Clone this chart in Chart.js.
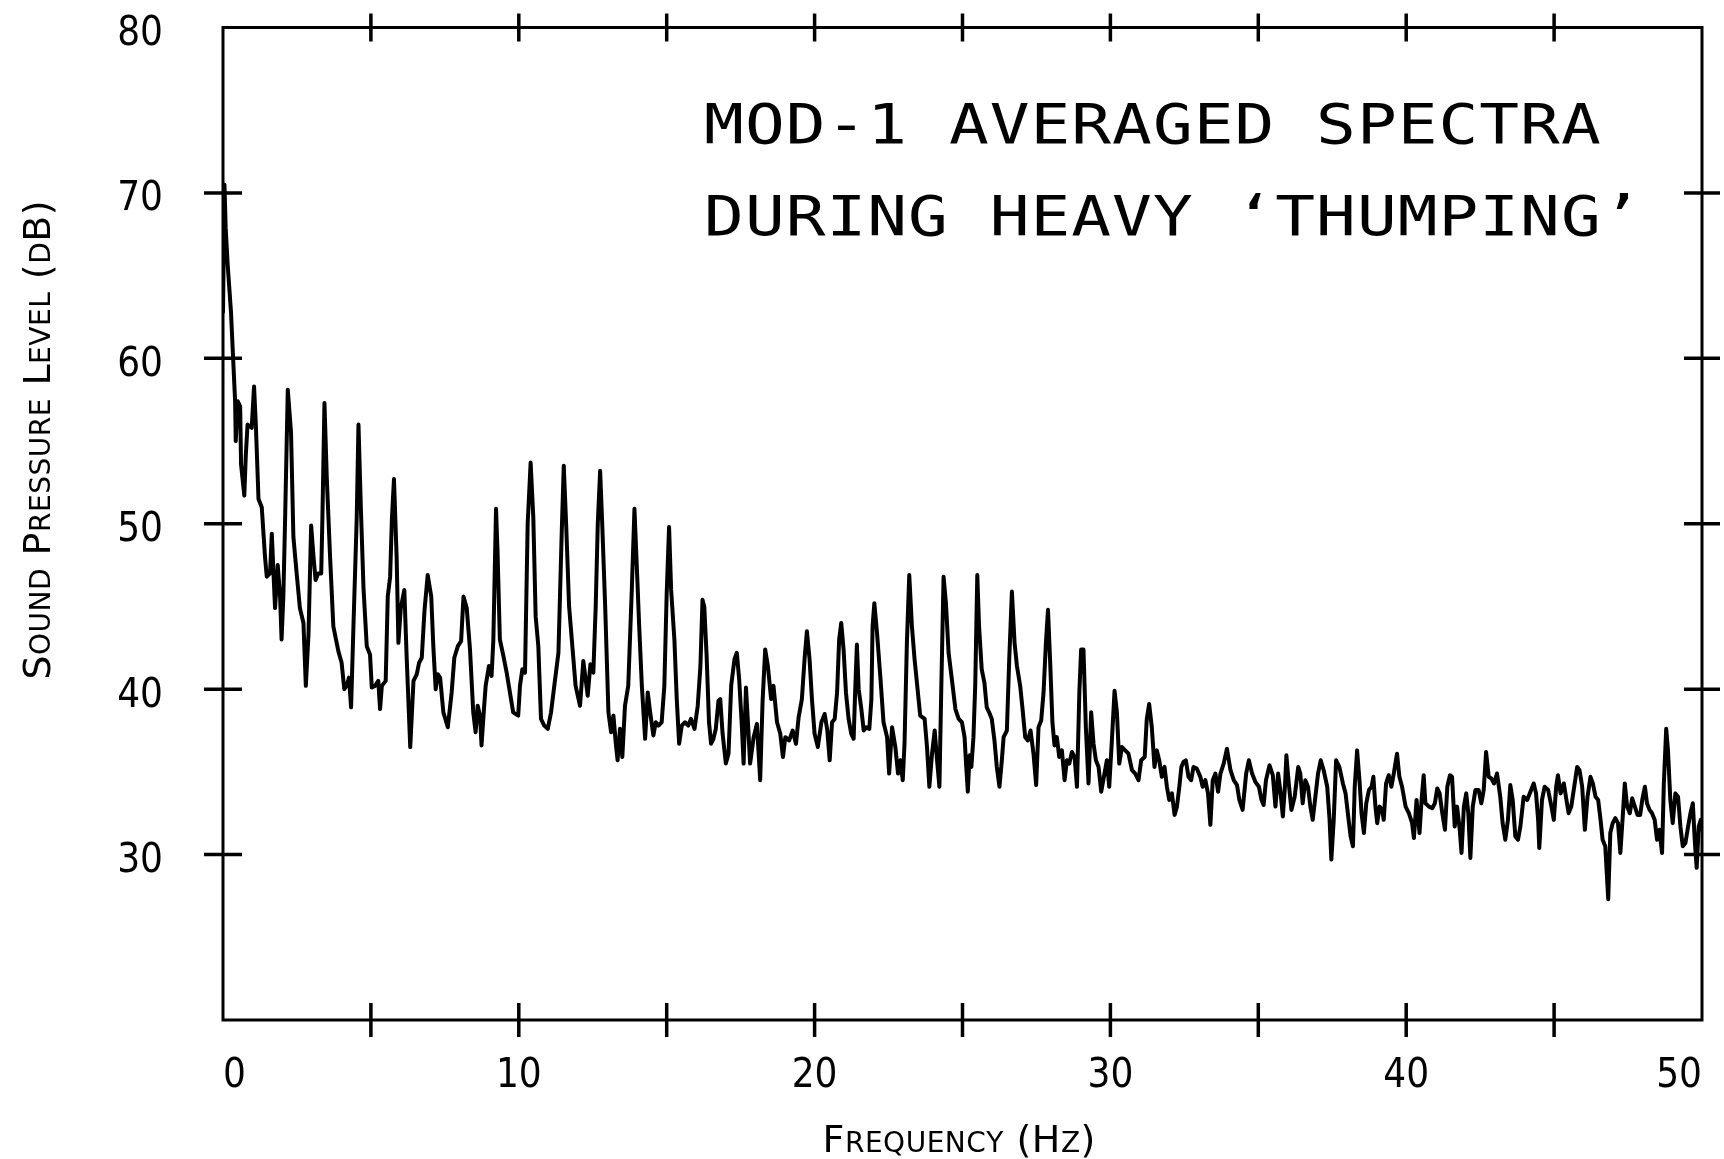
<!DOCTYPE html>
<html>
<head>
<meta charset="utf-8">
<script src="https://cdn.jsdelivr.net/npm/chart.js@4"></script>
<style>
  html, body { margin: 0; padding: 0; background: #ffffff; }
  canvas { display: block; }
</style>
</head>
<body>
<canvas id="c" width="1724" height="1159"></canvas>
<script>
// ---------------- DATA ----------------
const titleLines = ["MOD-1 AVERAGED SPECTRA", "DURING HEAVY \u2018THUMPING\u2019"];
const xAxisTitle = "Frequency (Hz)";
const yAxisTitle = "Sound Pressure Level (dB)";
const xLabelValues = [0, 10, 20, 30, 40, 50];
const yLabelValues = [30, 40, 50, 60, 70, 80];

// frequency (Hz)
const freqHz = [
  0.00,0.05,0.09,0.16,0.27,0.35,0.41,0.43,0.50,0.58,0.61,0.72,0.77,0.83,0.97,1.05,1.11,1.20,1.31,1.42,
  1.48,1.59,1.65,1.70,1.76,1.85,1.93,1.98,2.04,2.10,2.19,2.30,2.38,2.49,2.60,2.72,2.80,2.89,2.98,3.06,
  3.13,3.22,3.32,3.36,3.43,3.51,3.62,3.73,3.90,4.01,4.10,4.18,4.26,4.33,4.41,4.52,4.58,4.66,4.75,4.86,
  4.97,5.03,5.14,5.25,5.31,5.37,5.50,5.57,5.65,5.71,5.78,5.87,5.93,6.01,6.13,6.21,6.33,6.44,6.55,6.63,
  6.72,6.81,6.92,7.04,7.11,7.19,7.26,7.34,7.45,7.60,7.73,7.82,7.94,8.05,8.13,8.24,
  8.35,8.46,8.54,8.61,8.69,8.74,8.83,8.88,8.99,9.08,9.14,9.23,9.28,9.36,9.48,9.59,9.70,9.81,9.98,10.04,
  10.12,10.21,10.30,10.40,10.49,10.57,10.66,10.75,10.86,10.98,11.09,11.20,11.34,11.45,11.52,11.60,11.70,11.81,11.92,12.07,
  12.18,12.26,12.33,12.42,12.52,12.60,12.67,12.75,12.82,12.92,13.03,13.12,13.20,13.28,13.34,13.42,13.50,13.59,13.70,13.82,
  13.91,13.99,14.07,14.16,14.27,14.36,14.44,14.55,14.63,14.72,14.83,14.92,15.00,15.08,15.15,15.26,15.34,15.42,15.51,15.62,
  15.73,15.82,15.94,16.05,16.14,16.21,16.27,16.35,16.43,16.50,16.58,
  16.66,16.75,16.81,16.89,17.00,17.09,17.18,17.29,17.37,17.45,17.54,17.60,17.68,17.74,17.82,17.94,18.05,18.16,18.24,18.33,
  18.42,18.53,18.61,18.73,18.84,18.93,19.01,19.14,19.26,19.37,19.46,19.57,19.66,19.74,19.83,19.91,20.00,20.11,20.23,20.34,
  20.43,20.51,20.59,20.68,20.76,20.83,20.90,20.98,21.06,21.15,21.24,21.32,21.37,21.43,21.49,21.58,21.66,21.74,21.85,21.92,
  21.96,22.02,22.11,22.22,22.33,22.45,22.52,22.62,22.73,22.82,22.90,22.98,23.04,23.12,23.20,23.29,23.38,23.47,23.57,23.72,
  23.80,23.88,23.97,24.06,24.14,24.22,24.28,24.36,24.44,24.53,24.64,24.76,24.87,24.98,25.07,25.12,25.18,25.24,25.30,25.37,
  25.43,25.50,25.56,25.65,25.74,25.82,25.90,25.99,26.08,26.16,26.25,26.33,26.39,26.50,26.58,26.67,26.76,26.84,26.95,27.03,
  27.12,27.21,27.30,27.40,27.49,27.57,27.66,27.74,27.82,27.89,27.96,28.04,28.11,28.19,28.27,28.36,28.45,28.53,28.61,28.70,
  28.79,28.87,28.95,29.01,29.09,29.17,29.26,29.35,29.43,29.51,29.60,29.69,29.80,29.88,29.96,30.05,30.14,30.22,30.30,30.39,
  30.50,30.61,30.73,30.84,30.95,31.04,31.16,31.23,31.31,31.40,31.49,31.57,31.65,31.74,31.83,31.91,31.99,32.08,32.17,32.25,
  32.33,32.40,32.47,32.55,32.64,32.73,32.81,32.92,33.04,33.12,33.21,33.30,33.38,33.46,33.55,
  33.64,33.72,33.83,33.94,34.06,34.17,34.28,34.36,34.47,34.59,34.68,34.79,34.90,35.02,35.11,35.18,35.26,35.38,35.49,35.58,
  35.67,35.75,35.83,35.90,35.95,36.03,36.12,36.23,36.35,36.42,36.50,36.59,36.68,36.76,36.84,36.93,37.02,37.11,37.21,37.33,
  37.41,37.47,37.55,37.63,37.74,37.86,37.95,38.04,38.12,38.20,38.26,38.34,38.42,38.49,38.57,38.65,38.74,38.83,38.89,38.96,
  39.02,39.10,39.19,39.24,39.32,39.41,39.50,39.58,39.69,39.77,39.86,39.98,40.09,40.20,40.26,40.35,40.45,40.52,40.59,40.65,
  40.77,40.88,40.97,41.05,41.13,41.22,41.31,41.39,41.48,41.55,41.64,41.72,41.81,41.87,41.95,42.03,
  42.10,42.17,42.25,42.34,42.45,42.54,42.62,42.70,42.79,42.88,42.97,43.07,43.18,43.26,43.35,43.44,43.52,43.60,43.69,43.78,
  43.86,43.97,44.09,44.20,44.31,44.39,44.46,44.50,44.59,44.68,44.80,44.91,44.99,45.07,45.13,45.22,45.33,45.40,45.49,45.58,
  45.68,45.78,45.86,45.95,46.04,46.13,46.23,46.31,46.40,46.49,46.57,46.64,46.73,46.83,46.90,46.98,47.07,47.16,47.24,47.32,
  47.39,47.47,47.56,47.64,47.73,47.82,47.91,47.98,48.07,48.14,48.23,48.31,48.40,48.48,48.56,48.65,48.71,48.79,48.85,48.93,
  49.01,49.10,49.19,49.27,49.35,49.44,49.53,49.61,49.69,49.76,49.82,49.89,49.96,50.00
];

// sound pressure level (dB)
const splDb = [
  62.8,70.5,67.9,65.6,62.8,59.7,57.4,55.0,57.4,57.1,53.6,51.7,54.1,56.0,55.8,58.3,56.0,51.5,51.0,48.0,
  46.8,47.0,49.4,47.3,44.9,47.5,45.6,43.0,45.6,50.3,58.1,55.5,49.2,47.0,44.9,44.0,40.2,43.3,49.9,48.0,
  46.6,47.0,47.0,50.3,57.3,52.7,48.0,43.8,42.3,41.6,40.0,40.2,40.7,38.9,43.8,50.3,56.0,51.0,46.1,42.6,
  42.1,40.1,40.2,40.5,38.8,40.2,40.5,45.6,46.8,50.3,52.7,48.0,42.8,44.9,46.0,41.9,36.5,40.5,40.9,41.6,
  41.9,44.7,46.9,45.6,42.6,40.0,40.9,40.7,38.6,37.7,39.8,41.9,42.6,42.9,45.6,44.9,
  42.4,38.6,37.4,39.0,38.4,36.6,39.0,40.2,41.4,40.8,43.0,50.9,48.4,43.0,42.0,41.0,39.8,38.6,38.4,40.2,
  41.2,41.0,50.0,53.7,50.4,44.4,42.6,38.2,37.8,37.6,38.6,40.2,42.2,49.4,53.5,50.0,45.0,42.6,40.2,39.0,
  41.7,40.6,39.6,41.5,41.0,45.0,50.0,53.2,50.0,45.0,38.6,37.4,38.4,36.7,35.7,37.6,35.9,39.0,40.2,46.0,
  50.9,47.4,43.8,40.2,37.0,39.8,38.6,37.2,38.0,37.8,38.0,40.2,45.8,49.8,46.0,43.0,39.4,36.7,37.8,38.0,
  37.8,38.2,37.6,39.0,41.4,45.4,45.0,42.0,38.0,36.7,37.0,
  37.6,39.3,39.4,37.3,35.5,36.1,40.2,41.8,42.2,40.6,37.8,35.5,40.1,38.2,35.5,37.1,37.9,34.5,39.2,42.4,
  41.4,39.4,40.2,38.0,37.3,35.9,37.1,36.9,37.5,36.7,38.3,39.4,41.8,43.5,41.8,39.4,37.3,36.5,38.0,38.5,
  37.5,35.7,38.0,38.2,39.8,43.0,44.0,42.4,39.8,38.2,37.3,37.0,39.8,42.7,40.0,38.8,37.5,37.7,37.6,39.4,
  43.8,45.2,43.4,40.8,38.0,37.1,34.9,37.7,36.5,34.9,35.7,34.5,36.7,42.8,46.9,43.8,41.8,40.2,38.4,38.2,
  36.5,34.1,36.1,37.5,35.7,34.1,39.8,46.8,45.2,42.2,40.6,38.8,38.2,38.0,37.1,35.5,33.8,36.0,35.3,37.1,
  40.2,46.9,43.8,41.2,40.4,38.9,38.6,38.2,36.9,35.3,34.1,35.7,37.1,37.5,41.8,45.9,42.8,41.4,40.2,38.8,
  37.1,36.9,37.5,36.1,34.2,37.7,38.1,39.8,42.8,44.8,41.8,38.0,36.6,37.1,35.9,36.3,34.5,35.7,35.5,36.2,
  35.9,34.1,39.8,42.4,42.4,37.7,34.3,38.6,36.7,35.7,35.3,33.8,34.9,35.7,34.1,36.9,39.9,38.6,35.5,36.5,
  36.3,36.1,35.1,34.9,34.5,35.7,35.9,38.2,39.1,37.7,35.3,36.3,35.7,34.7,35.3,34.1,33.3,33.7,32.4,32.9,
  34.1,35.3,35.6,35.7,34.7,34.5,35.3,35.2,34.7,34.1,34.5,33.7,31.8,34.5,34.9,
  33.8,34.9,35.5,36.4,35.1,34.5,34.2,33.3,32.7,34.9,35.7,34.9,34.4,34.1,33.3,33.0,34.5,35.4,34.8,32.9,
  34.9,33.8,32.3,34.1,36.0,34.3,32.7,33.5,35.3,34.9,33.1,34.5,34.1,32.9,32.1,33.5,34.9,35.7,35.1,34.1,
  32.1,29.7,32.1,35.7,35.3,34.3,33.7,32.3,31.1,30.5,34.1,36.3,34.5,32.5,31.3,33.1,33.9,34.1,34.7,32.9,
  31.9,32.9,32.7,32.1,34.3,34.8,34.1,34.9,36.1,34.7,34.1,32.9,32.5,31.9,31.0,33.3,31.3,33.3,34.8,33.1,
  32.9,32.8,33.1,34.0,33.7,32.5,31.5,34.1,34.8,34.7,31.7,32.9,31.5,30.1,32.9,33.7,
  32.5,29.8,32.9,33.9,33.9,33.1,33.9,36.2,34.7,34.6,34.3,34.9,33.5,31.9,30.9,32.1,34.2,33.3,31.1,30.9,
  31.7,33.5,33.3,33.8,34.3,33.7,32.1,30.4,33.3,34.1,33.9,32.9,32.1,34.1,34.8,33.7,34.3,33.5,32.5,32.9,
  34.1,35.3,35.1,34.1,31.5,33.5,34.7,34.3,33.5,33.3,32.1,30.9,30.5,27.3,31.3,31.9,32.2,31.9,30.1,32.3,
  34.3,32.9,32.5,33.4,32.9,32.4,32.4,33.3,34.1,33.1,32.7,32.5,32.1,30.9,31.5,30.1,34.3,37.6,36.3,33.3,
  31.9,33.7,33.5,31.7,30.5,30.7,31.7,32.5,33.1,30.7,29.2,31.7,32.1,31.5
];

// ---------------- STYLE ----------------
const INK = '#000000';
const TICK_FONT = '"Liberation Sans Narrow", "DejaVu Sans Condensed", "Arial Narrow", sans-serif';
const TITLE_FONT = '"DejaVu Sans Mono", "Liberation Mono", monospace';
const LABEL_FONT = '"DejaVu Sans", "Liberation Sans", sans-serif';

// draws text with small caps (lowercase -> smaller uppercase), centered at 0, baseline at 0
function drawSmallCaps(ctx, text, bigSize, smallSize, family, extra) {
  const parts = [];
  let total = 0;
  for (const ch of text) {
    const isLower = ch !== ch.toUpperCase();
    const size = isLower ? smallSize : bigSize;
    const g = isLower ? ch.toUpperCase() : ch;
    ctx.font = size + 'px ' + family;
    const w = ctx.measureText(g).width;
    parts.push({ g, size, w });
    total += w + extra;
  }
  total -= extra;
  let x = -total / 2;
  for (const p of parts) {
    ctx.font = p.size + 'px ' + family;
    ctx.fillText(p.g, x, 0);
    x += p.w + extra;
  }
}

function zeroPadding(s) {
  s.paddingTop = 0; s.paddingBottom = 0; s.paddingLeft = 0; s.paddingRight = 0;
}

const decorPlugin = {
  id: 'decor',
  afterDatasetsDraw(chart) {
    const { ctx, chartArea: a, scales } = chart;
    const xs = scales.x, ys = scales.y;
    ctx.save();
    ctx.strokeStyle = INK;
    ctx.fillStyle = INK;
    // frame
    ctx.lineWidth = 3;
    ctx.strokeRect(a.left, a.top, a.right - a.left, a.bottom - a.top);
    // crossing tick marks on all four sides (positions from the library scales)
    ctx.lineWidth = 3.5;
    ctx.beginPath();
    xs.ticks.forEach(t => {
      if (t.value <= xs.min || t.value >= xs.max) return;
      const px = xs.getPixelForValue(t.value);
      ctx.moveTo(px, a.top - 14); ctx.lineTo(px, a.top + 14);
      ctx.moveTo(px, a.bottom - 17); ctx.lineTo(px, a.bottom + 17);
    });
    ys.ticks.forEach(t => {
      if (t.value <= ys.min || t.value >= ys.max) return;
      const py = ys.getPixelForValue(t.value);
      ctx.moveTo(a.left - 19, py); ctx.lineTo(a.left + 19, py);
      ctx.moveTo(a.right - 18, py); ctx.lineTo(a.right + 18, py);
    });
    ctx.stroke();

    // in-plot title (monospaced plotter lettering, widened glyphs)
    ctx.textBaseline = 'alphabetic';
    ctx.textAlign = 'center';
    ctx.font = '56px ' + TITLE_FONT;
    const pitch = 40.8;
    const startX = 707;
    const baselines = [143, 235];
    titleLines.forEach((line, li) => {
      let i = 0;
      for (const ch of line) {
        const cx = startX + i * pitch + 17;
        ctx.save();
        ctx.translate(cx, baselines[li]);
        ctx.scale(1.18, 1);
        ctx.fillText(ch, 0, 0);
        ctx.restore();
        i++;
      }
    });

    // axis titles in small caps
    ctx.textAlign = 'left';
    ctx.save();
    ctx.translate(959, 1152);
    drawSmallCaps(ctx, xAxisTitle, 38, 28, LABEL_FONT, 0.5);
    ctx.restore();

    ctx.save();
    ctx.translate(50, 440);
    ctx.rotate(-Math.PI / 2);
    drawSmallCaps(ctx, yAxisTitle, 38, 28, LABEL_FONT, 0.5);
    ctx.restore();

    ctx.restore();
  }
};

const points = freqHz.map((f, i) => ({ x: f, y: splDb[i] }));

new Chart(document.getElementById('c'), {
  type: 'line',
  data: {
    datasets: [{
      label: 'Averaged spectrum',
      data: points,
      borderColor: INK,
      borderWidth: 4,
      pointRadius: 0,
      tension: 0,
      fill: false,
      borderJoinStyle: 'round',
      borderCapStyle: 'round'
    }]
  },
  options: {
    responsive: false,
    animation: false,
    devicePixelRatio: 1,
    layout: { padding: { left: 0, right: 22, top: 27.5, bottom: 0 } },
    plugins: { legend: { display: false }, tooltip: { enabled: false }, title: { display: false } },
    scales: {
      x: {
        type: 'linear',
        min: 0, max: 50,
        grid: { display: false, drawTicks: false },
        border: { display: false },
        ticks: {
          stepSize: 5,
          autoSkip: false,
          maxRotation: 0,
          align: 'inner',
          padding: 33,
          color: INK,
          font: { family: TICK_FONT, size: 40 },
          callback: v => (xLabelValues.includes(v) ? String(v) : '')
        },
        afterFit: s => { s.height = 1159 - 1020; zeroPadding(s); }
      },
      y: {
        type: 'linear',
        min: 20, max: 80,
        grid: { display: false, drawTicks: false },
        border: { display: false },
        ticks: {
          stepSize: 10,
          autoSkip: false,
          padding: 60,
          labelOffset: 7,
          color: INK,
          font: { family: TICK_FONT, size: 40 },
          callback: v => (yLabelValues.includes(v) ? String(v) : '')
        },
        afterFit: s => { s.width = 223; zeroPadding(s); }
      }
    }
  },
  plugins: [decorPlugin]
});
</script>
</body>
</html>
